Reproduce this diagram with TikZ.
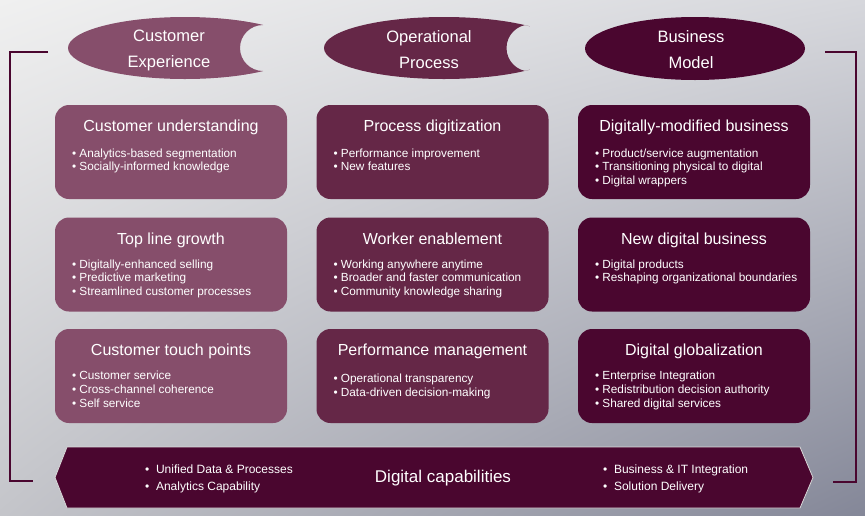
\documentclass[tikz,border=0pt]{standalone}
\usepackage{fontspec}
\setmainfont{Liberation Sans}
\usepackage{tikz}
\usetikzlibrary{positioning,shadings}

\definecolor{plumA}{RGB}{134,78,107}
\definecolor{plumB}{RGB}{101,39,71}
\definecolor{plumC}{RGB}{74,6,47}
\definecolor{bgTL}{RGB}{240,240,240}
\definecolor{bgTR}{RGB}{214,215,220}
\definecolor{bgBL}{RGB}{196,197,202}
\definecolor{bgBR}{RGB}{132,135,152}

\begin{document}
\begin{tikzpicture}[x=1pt, y=-1pt,
		card/.style={fill=#1, rounded corners=14pt, minimum width=232pt, minimum height=94pt, inner sep=0pt},
		ttl/.style={text=white, inner sep=0pt, font=\fontsize{16}{19}\selectfont, text height=11.5pt, text depth=3.5pt},
		blt/.style={text=white, inner sep=0pt, align=left, font=\fontsize{11.8}{13.8}\selectfont},
		oval/.style={text=white, inner sep=0pt, align=center, font=\fontsize{16.5}{26}\selectfont},
		bracket/.style={draw=plumC, line width=1.5pt}]
		\shade[upper left=bgTL, upper right=bgTR, lower left=bgBL, lower right=bgBR] (0,0) rectangle (865,515);
		\useasboundingbox (0,0) rectangle (865,515);

		\draw[bracket] (48,52) -- (10,52) -- (10,481) -- (33,481);
		\draw[bracket] (825,52) -- (856,52) -- (856,482) -- (833,482);

		\begin{scope}
			\clip (0,0) rectangle (263,100);
			\clip (185,48) ellipse [x radius=117pt, y radius=31pt];
			\fill[plumA, even odd rule] (185,48) ellipse [x radius=117pt, y radius=31pt] (263,48) circle [radius=23pt];
		\end{scope}
		\begin{scope}
			\clip (300,0) rectangle (530,100);
			\clip (444,48) ellipse [x radius=120pt, y radius=31pt];
			\fill[plumB, even odd rule] (444,48) ellipse [x radius=120pt, y radius=31pt] (530,48) circle [radius=23.5pt];
		\end{scope}
		\fill[plumC] (695,48.5) ellipse [x radius=110pt, y radius=31.5pt];

		\node[oval] (ce) at (169,50) {Customer\\Experience};
		\node[oval] (op) at (429,50) {Operational\\Process};
		\node[oval] (bm) at (691,50) {Business\\Model};

		\node[card=plumA] (cu) at (171,152) {};
		\node[ttl, below=14.5pt of cu.north] (cut) {Customer understanding};
		\node[blt, below right=43.5pt and 17pt of cu.north west] (cub) {\textbullet\ Analytics-based segmentation\\\textbullet\ Socially-informed knowledge};

		\node[card=plumB] (pd) at (432.5,152) {};
		\node[ttl, below=14.5pt of pd.north] (pdt) {Process digitization};
		\node[blt, below right=43.5pt and 17pt of pd.north west] (pdb) {\textbullet\ Performance improvement\\\textbullet\ New features};

		\node[card=plumC] (dm) at (694,152) {};
		\node[ttl, below=14.5pt of dm.north] (dmt) {Digitally-modified business};
		\node[blt, below right=43.5pt and 17pt of dm.north west] (dmb) {\textbullet\ Product/service augmentation\\\textbullet\ Transitioning physical to digital\\\textbullet\ Digital wrappers};

		\node[card=plumA] (tl) at (171,264.5) {};
		\node[ttl, below=15pt of tl.north] (tlt) {Top line growth};
		\node[blt, below right=42pt and 17pt of tl.north west] (tlb) {\textbullet\ Digitally-enhanced selling\\\textbullet\ Predictive marketing\\\textbullet\ Streamlined customer processes};

		\node[card=plumB] (we) at (432.5,264.5) {};
		\node[ttl, below=15pt of we.north] (wet) {Worker enablement};
		\node[blt, below right=42pt and 17pt of we.north west] (web) {\textbullet\ Working anywhere anytime\\\textbullet\ Broader and faster communication\\\textbullet\ Community knowledge sharing};

		\node[card=plumC] (nd) at (694,264.5) {};
		\node[ttl, below=15pt of nd.north] (ndt) {New digital business};
		\node[blt, below right=42pt and 17pt of nd.north west] (ndb) {\textbullet\ Digital products\\\textbullet\ Reshaping organizational boundaries};

		\node[card=plumA] (tp) at (171,376) {};
		\node[ttl, below=15pt of tp.north] (tpt) {Customer touch points};
		\node[blt, below right=42pt and 17pt of tp.north west] (tpb) {\textbullet\ Customer service\\\textbullet\ Cross-channel coherence\\\textbullet\ Self service};

		\node[card=plumB] (pm) at (432.5,376) {};
		\node[ttl, below=15pt of pm.north] (pmt) {Performance management};
		\node[blt, below right=45pt and 17pt of pm.north west] (pmb) {\textbullet\ Operational transparency\\\textbullet\ Data-driven decision-making};

		\node[card=plumC] (dg) at (694,376) {};
		\node[ttl, below=15pt of dg.north] (dgt) {Digital globalization};
		\node[blt, below right=42pt and 17pt of dg.north west] (dgb) {\textbullet\ Enterprise Integration\\\textbullet\ Redistribution decision authority\\\textbullet\ Shared digital services};

		\draw[fill=plumC, draw=bgTL!80!gray, line width=0.8pt] (67,447) -- (800,447) -- (813,477.5) -- (800,508) -- (67,508) -- (55,477.5) -- cycle;
		\node[text=white, inner sep=0pt, font=\fontsize{17}{20}\selectfont] (dc) at (443,478.5) {Digital capabilities};
		\node[blt, font=\fontsize{12}{17}\selectfont, anchor=west] (dcl) at (145,478.5) {\textbullet\ \ Unified Data \& Processes\\\textbullet\ \ Analytics Capability};
		\node[blt, font=\fontsize{12}{17}\selectfont, anchor=west] (dcr) at (603,478.5) {\textbullet\ \ Business \& IT Integration\\\textbullet\ \ Solution Delivery};
	\end{tikzpicture}
\end{document}
